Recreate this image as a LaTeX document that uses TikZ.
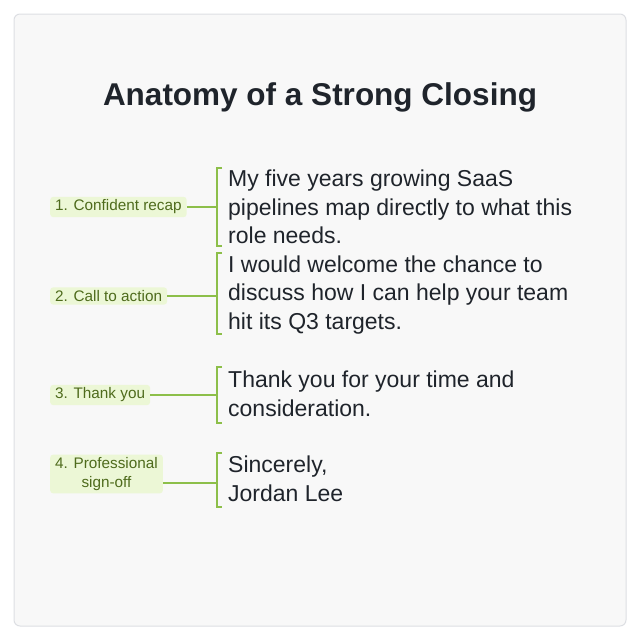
\documentclass[tikz,border=0pt]{standalone}
\usepackage{fontspec}
\setmainfont{Liberation Sans}
\definecolor{cardfill}{HTML}{F8F8F8}
\definecolor{cardline}{HTML}{DDDFE3}
\definecolor{pillfill}{HTML}{ECF7D6}
\definecolor{pilltext}{HTML}{4E6B1C}
\definecolor{brace}{HTML}{8DBF4A}
\definecolor{ink}{HTML}{1F242B}
\begin{document}
\begin{tikzpicture}[x=1pt,y=-1pt,
  pill/.style={anchor=west,fill=pillfill,rounded corners=3pt,text=pilltext,font=\fontsize{15.3}{18.5}\selectfont,
    inner xsep=5pt,inner ysep=3pt,align=center},
  body/.style={anchor=west,text=ink,font=\fontsize{23}{28.5}\selectfont,align=left,inner sep=0pt},
  link/.style={draw=brace,line width=1.1pt}]

\useasboundingbox (0,0) rectangle (640,640);
\draw[cardline,fill=cardfill,line width=1pt,rounded corners=6pt] (14,14) rectangle (626,626);

\node[text=ink,font=\bfseries\fontsize{31.5}{36}\selectfont] (title) at (320,97) {Anatomy of a Strong Closing};

% labels
\node[pill] (recap) at (50,207) {1. Confident recap};
\node[pill] (action) at (50,296) {2. Call to action};
\node[pill] (thanks) at (50,395) {3. Thank you};
\node[pill] (signoff) at (50,474) {4. Professional\\sign-off};

% brackets
\foreach \name/\top/\bot in {b1/168/246, b2/253/334, b3/367/423, b4/453/507}{
  \draw[link] (222,\top) -- (217,\top) -- (217,\bot) -- (222,\bot);
  \coordinate (\name) at (217,\top);
}
\draw[link] (recap) -- (recap -| b1);
\draw[link] (action) -- (action -| b2);
\draw[link] (thanks) -- (thanks -| b3);
\draw[link] ([yshift=-9pt]signoff.east) -- ([yshift=-9pt]signoff.east -| b4);

% texts
\node[body] (t1) at (228,207) {My five years growing SaaS\\pipelines map directly to what this\\role needs.};
\node[body] (t2) at (228,295) {I would welcome the chance to\\discuss how I can help your team\\hit its Q3 targets.};
\node[body] (t3) at (228,394) {Thank you for your time and\\consideration.};
\node[body] (t4) at (228,479) {Sincerely,\\Jordan Lee};
\end{tikzpicture}
\end{document}
